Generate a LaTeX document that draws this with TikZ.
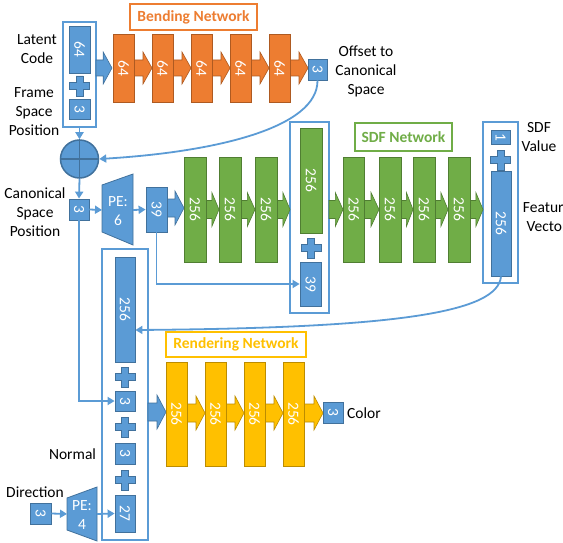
\documentclass[tikz,border=0pt]{standalone}
\usepackage{fontspec}
\setmainfont{Carlito}
\usepackage{graphicx}
\usetikzlibrary{arrows.meta}
\definecolor{cb}{HTML}{5B9BD5}
\definecolor{cbd}{HTML}{41719C}
\definecolor{co}{HTML}{ED7D31}
\definecolor{cod}{HTML}{AE5A21}
\definecolor{cg}{HTML}{70AD47}
\definecolor{cgd}{HTML}{507E32}
\definecolor{cy}{HTML}{FFC000}
\definecolor{cyd}{HTML}{BC8C00}
\newcommand{\rv}[1]{\rotatebox{-90}{#1}}
\newcommand{\lay}[7]{%
  \pgfmathsetmacro\lcx{(#2+#4)/2}\pgfmathsetmacro\lcy{(#3+#5)/2}%
  \pgfmathsetmacro\lww{#4-#2}\pgfmathsetmacro\lhh{#5-#3}%
  \node[#6, minimum width=\lww pt, minimum height=\lhh pt] (#1) at (\lcx,\lcy) {#7};}
\newcommand{\barr}[6]{%
  \pgfmathsetmacro\bxh{#2-min(9,(#2-#1)*0.55)}%
  \filldraw[#6] (#1,#3-#4) -- (\bxh,#3-#4) -- (\bxh,#3-#5) -- (#2,#3) -- (\bxh,#3+#5) -- (\bxh,#3+#4) -- (#1,#3+#4) -- cycle;}
\newcommand{\plussign}[2]{%
  \filldraw[plusst] (#1-3.5,#2-10) -- (#1+3.5,#2-10) -- (#1+3.5,#2-3.5) -- (#1+10,#2-3.5) -- (#1+10,#2+3.5) -- (#1+3.5,#2+3.5) -- (#1+3.5,#2+10) -- (#1-3.5,#2+10) -- (#1-3.5,#2+3.5) -- (#1-10,#2+3.5) -- (#1-10,#2-3.5) -- (#1-3.5,#2-3.5) -- cycle;}
\begin{document}
\begin{tikzpicture}[x=1pt,y=-1pt,
  font=\fontsize{15.5}{19}\selectfont,
  bl/.style={draw=cbd, fill=cb, text=white, line width=0.8pt, inner sep=0pt},
  og/.style={draw=cod, fill=co, text=white, line width=0.8pt, inner sep=0pt},
  gn/.style={draw=cgd, fill=cg, text=white, line width=0.8pt, inner sep=0pt},
  yw/.style={draw=cyd, fill=cy, text=white, line width=0.8pt, inner sep=0pt},
  ba/.style={draw=cbd, fill=cb, line width=0.6pt},
  oa/.style={draw=cod, fill=co, line width=0.6pt},
  ga/.style={draw=cgd, fill=cg, line width=0.6pt},
  ya/.style={draw=cyd, fill=cy, line width=0.6pt},
  plusst/.style={draw=cbd, fill=cb, line width=0.6pt},
  grp/.style={draw=cb, line width=1.8pt, inner sep=0pt},
  lbl/.style={draw=#1, line width=1.8pt, fill=white, text=#1, inner sep=0pt, font=\fontsize{15.5}{19}\selectfont\bfseries},
  txt/.style={align=center, inner sep=0pt, text=black},
  conn/.style={draw=cb, line width=1.8pt, -{Triangle[length=7pt,width=8pt]}},
  trap/.style={draw=cbd, fill=cb, line width=0.8pt}]
\useasboundingbox (0,0) rectangle (563,543);

% ---- group outlines ----
\lay{latbox}{63}{22}{96}{127}{grp}{}
\lay{skipbox}{290}{122}{329}{313}{grp}{}
\lay{outbox}{483}{122}{518}{283}{grp}{}
\lay{rendbox}{102}{249}{148}{540}{grp}{}

% ---- network labels ----
\lay{bendlbl}{130}{4}{257}{30}{lbl=co}{Bending Network}
\lay{sdflbl}{355}{123}{452}{151}{lbl=cg}{SDF Network}
\lay{rendlbl}{166}{332}{306}{357}{lbl=cy}{Rendering Network}

% ---- block arrows ----
\barr{96}{112}{68}{8}{16}{ba}
\barr{134}{152}{68}{8}{16}{oa}
\barr{173}{191}{68}{8}{16}{oa}
\barr{212}{230}{68}{8}{16}{oa}
\barr{251}{269}{68}{8}{16}{oa}
\barr{290}{308}{68}{8}{16}{oa}
\barr{167}{184}{208}{9}{17}{ba}
\barr{206}{219}{209.5}{9}{17}{ga}
\barr{241}{255}{209.5}{9}{17}{ga}
\barr{277}{290}{209.5}{9}{17}{ga}
\barr{329}{343}{209.5}{9}{17}{ga}
\barr{364.5}{379}{209.5}{9}{17}{ga}
\barr{401}{413}{209.5}{9}{17}{ga}
\barr{435}{448}{209.5}{9}{17}{ga}
\barr{470}{483}{209.5}{9}{17}{ga}
\barr{148}{166}{412}{9}{17}{ba}
\barr{187}{205}{413}{9}{17}{ya}
\barr{226}{244}{413}{9}{17}{ya}
\barr{265}{283}{413}{9}{17}{ya}
\barr{304}{323}{413}{9}{17}{ya}

% ---- bending network ----
\lay{lat64}{69}{26}{90}{73}{bl}{\rv{64}}
\plussign{79.5}{86}
\lay{lat3}{69}{99}{90}{119}{bl}{\rv{3}}
\lay{b1}{113}{34}{134}{102}{og}{\rv{64}}
\lay{b2}{152}{34}{173}{102}{og}{\rv{64}}
\lay{b3}{191}{34}{212}{102}{og}{\rv{64}}
\lay{b4}{230}{34}{251}{102}{og}{\rv{64}}
\lay{b5}{269}{34}{290}{102}{og}{\rv{64}}
\lay{off3}{308}{59}{327}{80}{bl}{\rv{3}}

% ---- circle plus ----
\node[circle, draw=cbd, fill=cb, line width=1.5pt, minimum size=38pt, inner sep=0pt] (circ) at (79.5,159) {};
\draw[cbd, line width=1.5pt] (circ.north) -- (circ.south) (circ.west) -- (circ.east);

% ---- canonical position & PE ----
\lay{c3}{69}{199}{89}{220}{bl}{\rv{3}}
\filldraw[trap] (102,185) -- (133,174) -- (133,245) -- (102,232) -- cycle;
\coordinate (pe6w) at (102,210);
\coordinate (pe6e) at (133,210);
\node[txt, text=white] (pe6) at (118,211) {PE:\\6};
\lay{p39}{146}{187}{167}{232}{bl}{\rv{39}}

% ---- SDF network ----
\lay{g1}{184}{157}{206}{262}{gn}{\rv{256}}
\lay{g2}{219}{157}{241}{262}{gn}{\rv{256}}
\lay{g3}{255}{157}{277}{262}{gn}{\rv{256}}
\lay{s256}{300}{128}{322}{233}{gn}{\rv{256}}
\plussign{311}{248}
\lay{s39}{300}{262}{321}{306}{bl}{\rv{39}}
\lay{g4}{343}{157}{364.5}{262}{gn}{\rv{256}}
\lay{g5}{379}{157}{401}{262}{gn}{\rv{256}}
\lay{g6}{413}{157}{435}{262}{gn}{\rv{256}}
\lay{g7}{448}{157}{470}{262}{gn}{\rv{256}}
\lay{sdf1}{491}{130}{510}{144}{bl}{\rv{1}}
\plussign{500.5}{160}
\lay{feat}{491}{171}{511}{276}{bl}{\rv{256}}

% ---- rendering network ----
\lay{r256}{115}{257}{135}{362}{bl}{\rv{256}}
\plussign{125}{377}
\lay{n3a}{115}{391}{135}{411}{bl}{\rv{3}}
\plussign{125}{427}
\lay{n3b}{115}{443}{135}{464}{bl}{\rv{3}}
\plussign{125}{480}
\lay{r27}{115}{495}{135}{532}{bl}{\rv{27}}
\lay{y1}{166}{362}{187}{466}{yw}{\rv{256}}
\lay{y2}{205}{362}{226}{466}{yw}{\rv{256}}
\lay{y3}{244}{362}{265}{466}{yw}{\rv{256}}
\lay{y4}{283}{362}{304}{466}{yw}{\rv{256}}
\lay{col3}{323}{402}{343}{423}{bl}{\rv{3}}

% ---- direction ----
\lay{dir3}{30}{503}{51}{524}{bl}{\rv{3}}
\filldraw[trap] (67,498) -- (97,487) -- (97,541) -- (67,530) -- cycle;
\coordinate (pe4w) at (67,514);
\coordinate (pe4e) at (97,514);
\node[txt, text=white] (pe4) at (82,515) {PE:\\4};

% ---- connectors ----
\draw[conn] (latbox.south) -- (circ.north);
\draw[conn] (circ.south) -- (c3.north);
\draw[conn] (off3.south) .. controls (318,128) and (215,152) .. (circ.east);
\draw[conn] (c3.east) -- (pe6w);
\draw[conn] (pe6e) -- (p39.west);
\draw[conn] (p39.south) |- (s39.west);
\draw[conn] (c3.south) |- (n3a.west);
\draw[conn] (feat.south) .. controls (498,312) and (400,328) .. (r256.east |- 0,330);
\draw[conn] (dir3.east) -- (pe4w);
\draw[conn] (pe4e) -- (r27.west);

% ---- texts ----
\node[txt] (tlat) at (37,49) {Latent\\Code};
\node[txt] (tframe) at (34,112) {Frame\\Space\\Position};
\node[txt] (toff) at (366,71) {Offset to\\Canonical\\Space};
\node[txt] (tcan) at (35,212) {Canonical\\Space\\Position};
\node[txt] (tsdf) at (539,137) {SDF\\Value};
\node[txt] (tfeat) at (547,217) {Feature\\Vector};
\node[txt] (tnorm) at (72.5,454) {Normal};
\node[txt] (tdir) at (35,492) {Direction};
\node[txt, anchor=west] (tcol) at (347,413) {Color};
\end{tikzpicture}
\end{document}
